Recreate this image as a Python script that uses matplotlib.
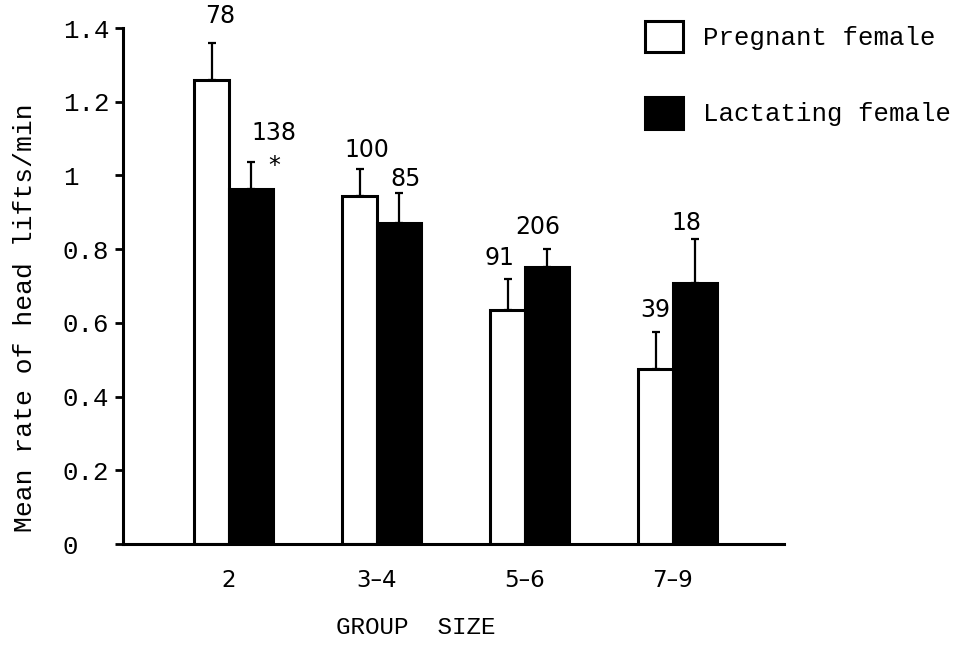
import numpy as np
import matplotlib
matplotlib.use('Agg')
import matplotlib.pyplot as plt

# data
group_sizes = ['2', '3\u20134', '5\u20136', '7\u20139']
pregnant = [1.26, 0.945, 0.635, 0.475]
pregnant_se = [0.10, 0.073, 0.084, 0.10]
lactating = [0.963, 0.871, 0.751, 0.708]
lactating_se = [0.073, 0.081, 0.049, 0.119]
pregnant_n = ['78', '100', '91', '39']
lactating_n = ['138', '85', '206', '18']

y_ticks = [0, 0.2, 0.4, 0.6, 0.8, 1.0, 1.2, 1.4]
y_tick_labels = ['0', '0.2', '0.4', '0.6', '0.8', '1', '1.2', '1.4']

# label offsets (points) from the top of each error bar
pregnant_off = [(6, 19.5), (5.5, 13.5), (-5.5, 15), (0, 16)]
lactating_off = [(16.5, 21), (5, 10), (-6.5, 16), (-6, 11.5)]

mono = 'Liberation Mono'
sans = 'DejaVu Sans'

fig = plt.figure(figsize=(9.61, 6.66), dpi=100)
ax = fig.add_axes([123 / 961, 1 - 544 / 666, (784 - 123) / 961, (544 - 28) / 666])

x = np.arange(len(group_sizes))
w_white = 0.236
w_black = 0.297

b1 = ax.bar(x - w_white / 2, pregnant, width=w_white, color='white',
            edgecolor='black', linewidth=2.2, label='Pregnant female', zorder=2)
b2 = ax.bar(x + w_black / 2, lactating, width=w_black, color='black',
            edgecolor='black', linewidth=2.2, label='Lactating female', zorder=2)

zeros = np.zeros(len(x))
ax.errorbar(x - w_white / 2, pregnant, yerr=[zeros, pregnant_se], fmt='none',
            ecolor='black', elinewidth=1.6, capsize=3, capthick=1.6, zorder=3)
ax.errorbar(x + w_black / 2, lactating, yerr=[zeros, lactating_se], fmt='none',
            ecolor='black', elinewidth=1.6, capsize=3, capthick=1.6, zorder=3)

for i in range(len(x)):
    ax.annotate(pregnant_n[i], (x[i] - w_white / 2, pregnant[i] + pregnant_se[i]),
                xytext=pregnant_off[i], textcoords='offset points',
                ha='center', va='center', fontsize=17, family=sans)
    ax.annotate(lactating_n[i], (x[i] + w_black / 2, lactating[i] + lactating_se[i]),
                xytext=lactating_off[i], textcoords='offset points',
                ha='center', va='center', fontsize=17, family=sans)

# significance star next to group 2 lactating
ax.annotate('*', (x[0] + w_black / 2, lactating[0] + lactating_se[0]),
            xytext=(16.5, -3), textcoords='offset points',
            ha='center', va='center', fontsize=17, family=sans)

ax.set_xlim(-0.716, 3.75)
ax.set_ylim(0, 1.4)
ax.set_xticks(x)
ax.set_xticklabels(group_sizes, fontsize=16.5, family=sans)
ax.set_yticks(y_ticks)
ax.set_yticklabels(y_tick_labels, fontsize=18.5, family=mono)
for lab in ax.get_yticklabels():
    lab.set_horizontalalignment('left')

ax.tick_params(axis='x', length=0, pad=18)
ax.tick_params(axis='y', direction='out', length=6, width=2, pad=37.4)

for s in ['top', 'right']:
    ax.spines[s].set_visible(False)
for s in ['left', 'bottom']:
    ax.spines[s].set_linewidth(2.2)

fig.text(25 / 961, 1 - 318 / 666, 'Mean rate of head lifts/min', rotation=90,
         ha='center', va='center', fontsize=19, family=mono)
fig.text(416 / 961, 1 - 628 / 666, 'GROUP  SIZE', ha='center', va='center',
         fontsize=17.5, family=mono)

ax.legend(handles=[b1, b2], loc='upper left',
          bbox_to_anchor=(645 / 961, 1 - 21 / 666), bbox_transform=fig.transFigure,
          frameon=False, borderpad=0, borderaxespad=0,
          handlelength=1.48, handleheight=1.48, handletextpad=0.78,
          labelspacing=1.77, prop={'family': mono, 'size': 18.5})

fig.savefig('out.png', dpi=100)
